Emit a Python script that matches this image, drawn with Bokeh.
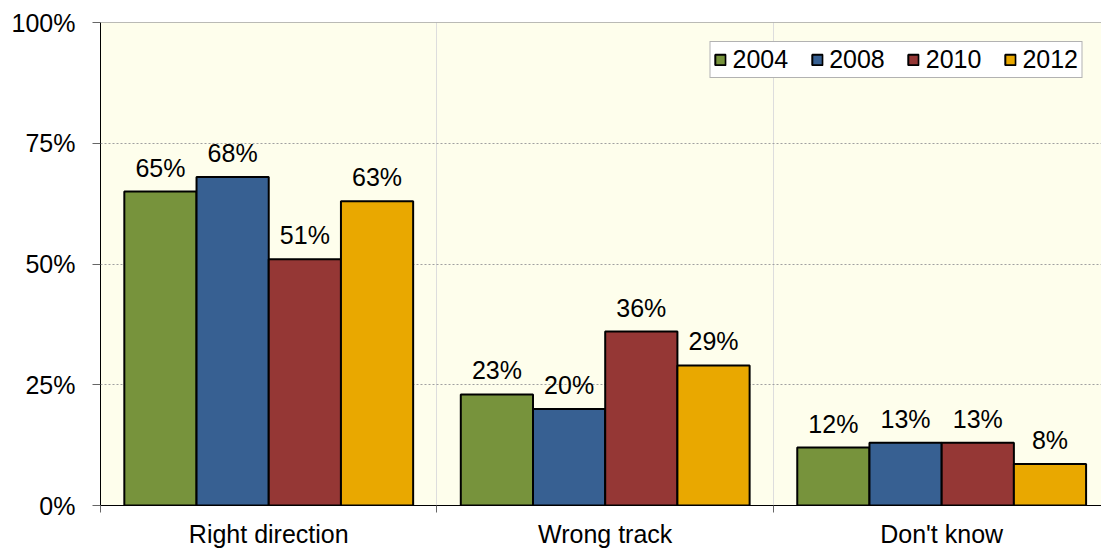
from bokeh.plotting import figure
from bokeh.models import ColumnDataSource, FixedTicker, Range1d, Span, Legend, LegendItem
from bokeh.core.properties import value
from bokeh.embed import file_html
from bokeh.resources import INLINE

categories = ["Right direction", "Wrong track", "Don't know"]
years = ["2004", "2008", "2010", "2012"]
colors = ["#77933C", "#376092", "#953735", "#E9A800"]
vals_2004 = [65, 23, 12]
vals_2008 = [68, 20, 13]
vals_2010 = [51, 36, 13]
vals_2012 = [63, 29, 8.6]
labels_2004 = ["65%", "23%", "12%"]
labels_2008 = ["68%", "20%", "13%"]
labels_2010 = ["51%", "36%", "13%"]
labels_2012 = ["63%", "29%", "8%"]
y_ticks = [0, 25, 50, 75, 100]
y_tick_labels = ["0%", "25%", "50%", "75%", "100%"]

series = [vals_2004, vals_2008, vals_2010, vals_2012]
series_labels = [labels_2004, labels_2008, labels_2010, labels_2012]

FONT = "Liberation Sans"
FS = "25px"

p = figure(width=1101, height=550, output_backend="svg", toolbar_location=None,
           x_range=Range1d(0, 2.975), y_range=Range1d(0, 100),
           min_border_left=100, min_border_right=0, min_border_top=22, min_border_bottom=45)
p.background_fill_color = "#FEFEEC"
p.border_fill_color = "white"
p.outline_line_color = None

bar_w = 0.2146
offsets = [-1.5, -0.5, 0.5, 1.5]
legend_items = []
for i, (vals, labs) in enumerate(zip(series, series_labels)):
    xs = [k + 0.5 + offsets[i] * bar_w for k in range(len(categories))]
    src = ColumnDataSource(dict(x=xs, top=vals, lab=labs))
    r = p.vbar(x="x", top="top", width=bar_w, source=src, fill_color=colors[i],
               line_color="black", line_width=2)
    legend_items.append(LegendItem(label=years[i], renderers=[r]))
    p.text(x="x", y="top", text="lab", source=src, text_align="center",
           text_baseline="alphabetic", y_offset=-24, text_font=value(FONT),
           text_font_size=FS, text_color="black")

# axes
p.xaxis.ticker = FixedTicker(ticks=[0.5, 1.5, 2.5], minor_ticks=[0, 1, 2, 3])
p.xaxis.major_label_overrides = {0.5: categories[0], 1.5: categories[1], 2.5: categories[2]}
p.xaxis.major_tick_line_color = None
p.xaxis.major_tick_out = 0
p.xaxis.major_tick_in = 0
p.xaxis.minor_tick_out = 7
p.xaxis.minor_tick_in = 0
p.xaxis.minor_tick_line_color = "#666666"
p.xaxis.axis_line_color = "black"
p.xaxis.major_label_standoff = 7
p.xaxis.major_label_text_font = FONT
p.xaxis.major_label_text_font_size = FS
p.xaxis.major_label_text_color = "black"

p.yaxis.ticker = FixedTicker(ticks=y_ticks)
p.yaxis.major_label_overrides = {t: l for t, l in zip(y_ticks, y_tick_labels)}
p.yaxis.major_tick_out = 8
p.yaxis.major_tick_in = 0
p.yaxis.major_tick_line_color = "#666666"
p.yaxis.minor_tick_line_color = None
p.yaxis.axis_line_color = "black"
p.yaxis.major_label_standoff = 17
p.yaxis.major_label_text_font = FONT
p.yaxis.major_label_text_font_size = FS
p.yaxis.major_label_text_color = "black"

# grids
p.xgrid.ticker = FixedTicker(ticks=[1, 2])
p.xgrid.grid_line_color = "#DDDDDD"
p.xgrid.grid_line_width = 1
p.ygrid.ticker = FixedTicker(ticks=[25, 50, 75])
p.ygrid.grid_line_color = "#A0A0A0"
p.ygrid.grid_line_dash = "2 2"
p.add_layout(Span(location=100, dimension="width", line_color="#777777", line_width=1))

legend = Legend(items=legend_items, location="top_right", orientation="horizontal")
legend.label_text_font = FONT
legend.label_text_font_size = FS
legend.label_text_color = "black"
legend.glyph_width = 13
legend.glyph_height = 13
legend.label_standoff = 6
legend.spacing = 22
legend.padding = 3
legend.margin = 19
legend.border_line_color = "#666666"
legend.background_fill_color = "white"
legend.background_fill_alpha = 1
p.add_layout(legend)

open("out.html", "w").write(file_html(p, INLINE))
